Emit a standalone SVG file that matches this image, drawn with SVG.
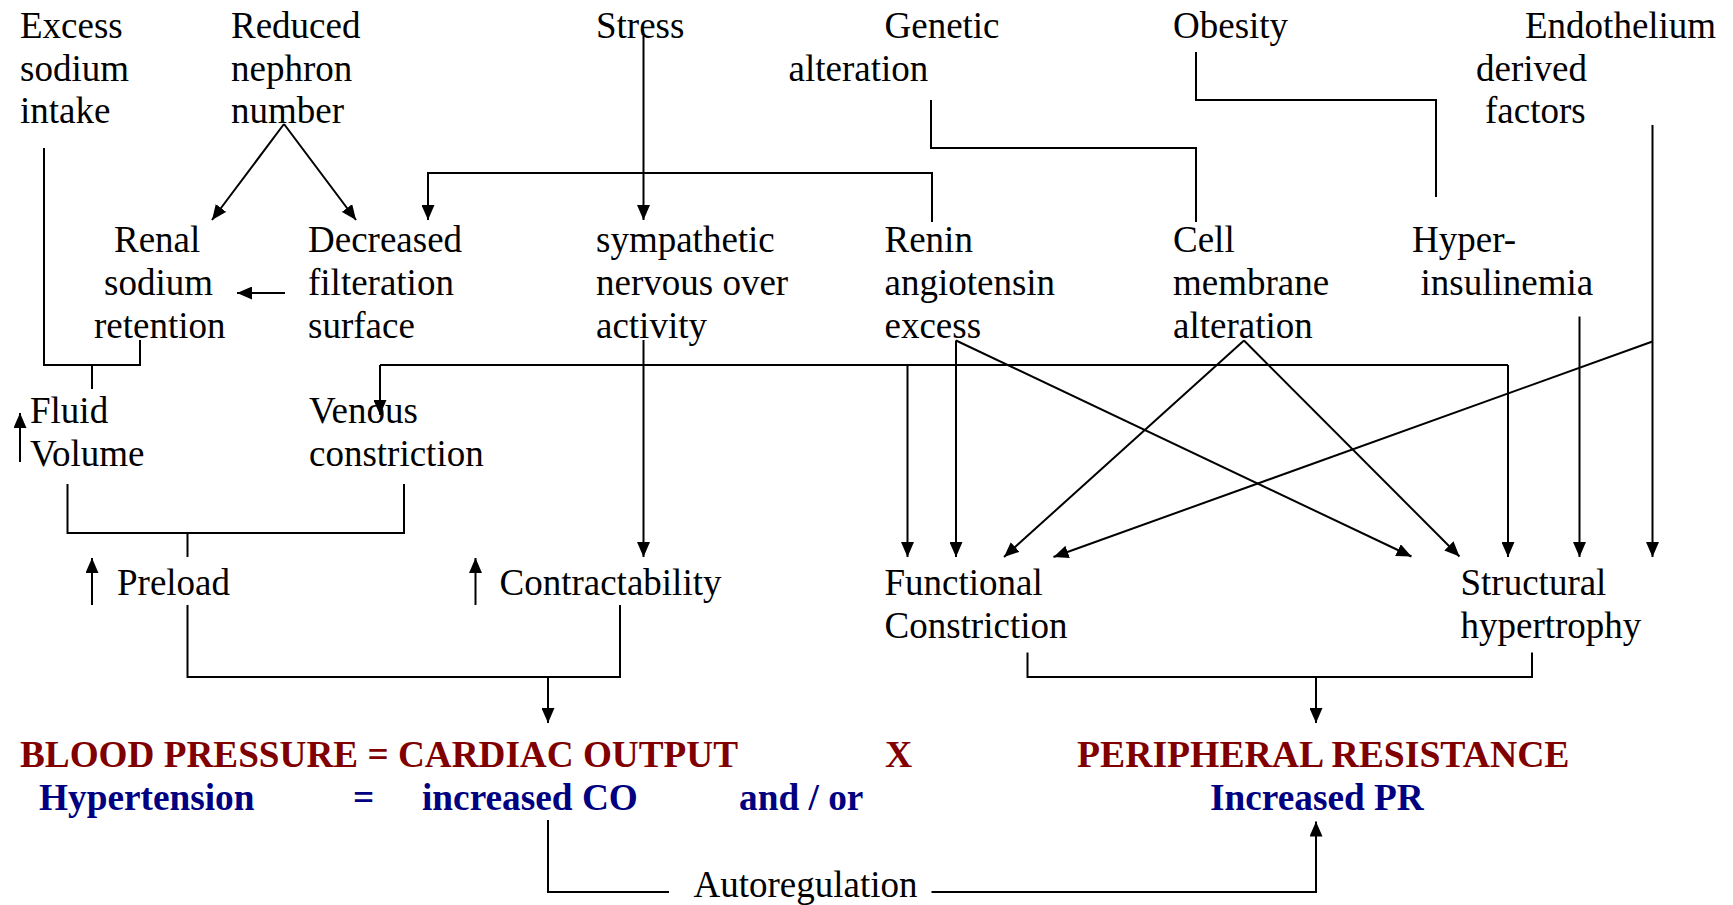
<svg xmlns="http://www.w3.org/2000/svg" width="1733" height="905" viewBox="0 0 1733 905">
<style>
text{font-family:"Liberation Serif","Times New Roman",serif;font-size:37px;fill:#000}
.eq{font-weight:bold}
.red{fill:#800000;font-size:37.7px}
.blue{fill:#000080;font-size:37.3px}
.c path,.c line{stroke:#000;stroke-width:2;fill:none}
.a{marker-end:url(#ah)}
</style>
<defs>
<marker id="ah" markerUnits="userSpaceOnUse" markerWidth="15" markerHeight="13" refX="15" refY="6.5" orient="auto">
<path d="M0,0 L15,6.5 L0,13 z" fill="#000"/>
</marker>
</defs>
<rect width="1733" height="905" fill="#fff"/>
<g id="connectors" class="c">
<line class="a" x1="284" y1="124" x2="212" y2="220"/>
<line class="a" x1="284" y1="124" x2="356" y2="220"/>
<line class="a" x1="285" y1="293" x2="237" y2="293"/>
<path class="a" d="M932,222 V173 H428 V220"/>
<line class="a" x1="643.5" y1="36" x2="643.5" y2="220"/>
<path d="M931,100 V148 H1196 V222"/>
<path d="M1196,52 V100 H1436 V197"/>
<path d="M44,148 V365 H140 V340"/>
<path d="M92,365 V389"/>
<line class="a" x1="20" y1="462" x2="20" y2="413"/>
<path d="M380,365 H1508"/>
<line class="a" x1="380" y1="365" x2="380" y2="415"/>
<line class="a" x1="1508" y1="365" x2="1508" y2="557"/>
<line class="a" x1="907.5" y1="365" x2="907.5" y2="557"/>
<line class="a" x1="956" y1="340.5" x2="956" y2="557"/>
<line class="a" x1="956" y1="340.5" x2="1411.5" y2="556.5"/>
<line class="a" x1="1244" y1="340.5" x2="1004" y2="557"/>
<line class="a" x1="1244" y1="340.5" x2="1459.5" y2="556.5"/>
<line class="a" x1="1579.5" y1="316.5" x2="1579.5" y2="557"/>
<line class="a" x1="1652.5" y1="125" x2="1652.5" y2="557"/>
<line class="a" x1="1652.5" y1="341.5" x2="1053.5" y2="557"/>
<line class="a" x1="643.5" y1="340" x2="643.5" y2="557"/>
<path d="M67.5,484 V533 H404 V484"/>
<path d="M187.5,533 V557"/>
<line class="a" x1="92" y1="605" x2="92" y2="558"/>
<line class="a" x1="475.5" y1="605" x2="475.5" y2="558"/>
<path d="M187.5,605 V677 H620 V605"/>
<line class="a" x1="548" y1="677" x2="548" y2="723"/>
<path d="M1027.5,652.5 V677 H1532 V652.5"/>
<line class="a" x1="1316" y1="677" x2="1316" y2="723"/>
<path d="M548,820 V892 H669"/>
<path class="a" d="M931.5,892 H1316 V821.5"/>
</g>
<g id="excess-sodium"><text x="20" y="38">Excess</text><text x="20" y="81">sodium</text><text x="20" y="123">intake</text></g>
<g id="reduced-nephron"><text x="231" y="38">Reduced</text><text x="231" y="81">nephron</text><text x="231" y="123">number</text></g>
<g id="stress"><text x="596" y="38">Stress</text></g>
<g id="genetic"><text x="884.5" y="38">Genetic</text><text x="788.5" y="81">alteration</text></g>
<g id="obesity"><text x="1173" y="38">Obesity</text></g>
<g id="endothelium"><text x="1525" y="38">Endothelium</text><text x="1476" y="81">derived</text><text x="1485" y="123">factors</text></g>
<g id="renal"><text x="114" y="252">Renal</text><text x="104" y="295">sodium</text><text x="94" y="338">retention</text></g>
<g id="decreased"><text x="308" y="252">Decreased</text><text x="308" y="295">filteration</text><text x="308" y="338">surface</text></g>
<g id="sympathetic"><text x="596" y="252">sympathetic</text><text x="596" y="295">nervous over</text><text x="596" y="338">activity</text></g>
<g id="renin"><text x="884.5" y="252">Renin</text><text x="884.5" y="295">angiotensin</text><text x="884.5" y="338">excess</text></g>
<g id="cell"><text x="1173" y="252">Cell</text><text x="1173" y="295">membrane</text><text x="1173" y="338">alteration</text></g>
<g id="hyper"><text x="1412" y="252">Hyper-</text><text x="1420.5" y="295">insulinemia</text></g>
<g id="fluid"><text x="30" y="423">Fluid</text><text x="30" y="466">Volume</text></g>
<g id="venous"><text x="309" y="423">Venous</text><text x="309" y="466">constriction</text></g>
<g id="preload"><text x="117" y="595">Preload</text></g>
<g id="contract"><text x="499.5" y="595">Contractability</text></g>
<g id="functional"><text x="884.5" y="595">Functional</text><text x="884.5" y="638">Constriction</text></g>
<g id="structural"><text x="1460.5" y="595">Structural</text><text x="1460.5" y="638">hypertrophy</text></g>
<g id="equation">
<text class="eq red" x="20" y="767" textLength="718" lengthAdjust="spacingAndGlyphs">BLOOD PRESSURE = CARDIAC OUTPUT</text>
<text class="eq red" x="885" y="767">X</text>
<text class="eq red" x="1077" y="767">PERIPHERAL RESISTANCE</text>
<text class="eq blue" x="39" y="810">Hypertension</text>
<text class="eq blue" x="353" y="810">=</text>
<text class="eq blue" x="422" y="810">increased CO</text>
<text class="eq blue" x="739" y="810">and / or</text>
<text class="eq blue" x="1210" y="810">Increased PR</text>
</g>
<g id="autoregulation"><text x="693.5" y="897">Autoregulation</text></g>
</svg>
